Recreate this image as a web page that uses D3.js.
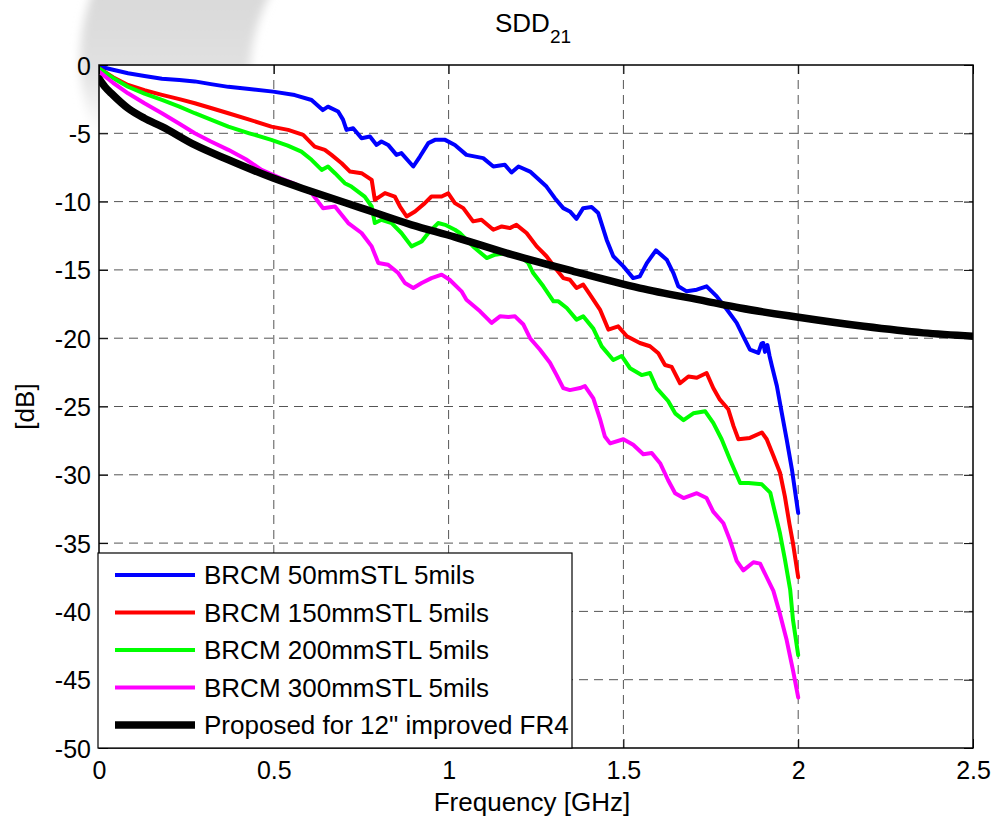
<!DOCTYPE html>
<html lang="en">
<head>
<meta charset="UTF-8">
<title>SDD21</title>
<style>
  body { margin: 0; background: #fff; }
  svg { display: block; font-family: "Liberation Sans", Arial, sans-serif; }
</style>
<script src="https://d3js.org/d3.v7.min.js"></script>
</head>
<body>
<div id="chart"></div>
<script>
// values: [frequency in GHz, dB]
const brcm50 = [
  [0, -0.1], [0.04, -0.35], [0.083, -0.6], [0.13, -0.8], [0.18, -1.0], [0.23, -1.1],
  [0.274, -1.2], [0.32, -1.4], [0.37, -1.6], [0.43, -1.75], [0.498, -1.95], [0.56, -2.2],
  [0.608, -2.56], [0.64, -3.3], [0.655, -3.05], [0.684, -3.4], [0.698, -4.0], [0.708, -4.75],
  [0.727, -4.63], [0.751, -5.36], [0.775, -5.24], [0.794, -5.85], [0.808, -5.6], [0.827, -5.85],
  [0.851, -6.58], [0.865, -6.45], [0.899, -7.43], [0.918, -6.7], [0.942, -5.72], [0.961, -5.48],
  [0.99, -5.48], [1.018, -5.85], [1.051, -6.58], [1.099, -6.82], [1.128, -7.43], [1.161, -7.31],
  [1.18, -7.87], [1.2, -7.43], [1.233, -7.8], [1.28, -8.9], [1.304, -9.75], [1.328, -10.48],
  [1.347, -10.72], [1.366, -11.26], [1.385, -10.48], [1.409, -10.4], [1.428, -10.84], [1.452, -12.79],
  [1.471, -14.0], [1.5, -14.74], [1.528, -15.6], [1.547, -15.47], [1.567, -14.5], [1.593, -13.57],
  [1.624, -14.25], [1.643, -15.23], [1.657, -16.2], [1.681, -16.57], [1.71, -16.45], [1.738, -16.2],
  [1.767, -16.94], [1.796, -17.9], [1.824, -18.88], [1.843, -19.86], [1.862, -20.83], [1.886, -21.08],
  [1.895, -20.4], [1.9, -20.35], [1.905, -21.0], [1.912, -20.5], [1.918, -21.3], [1.925, -22.05],
  [1.939, -23.5], [1.953, -25.46], [1.967, -27.4], [1.982, -29.6], [2.0, -32.8]
];
const brcm150 = [
  [0, -0.24], [0.04, -0.9], [0.083, -1.46], [0.13, -1.85], [0.18, -2.19], [0.23, -2.5],
  [0.274, -2.8], [0.32, -3.15], [0.37, -3.53], [0.43, -4.0], [0.493, -4.51], [0.541, -4.75],
  [0.584, -5.12], [0.617, -5.97], [0.646, -6.21], [0.665, -6.58], [0.694, -7.19], [0.718, -7.8],
  [0.751, -7.92], [0.78, -8.41], [0.789, -9.87], [0.818, -9.38], [0.846, -9.63], [0.861, -10.36],
  [0.88, -11.09], [0.904, -10.72], [0.932, -10.11], [0.951, -9.63], [0.98, -9.63], [0.999, -9.4],
  [1.018, -10.11], [1.042, -10.48], [1.07, -11.45], [1.094, -11.33], [1.128, -12.06], [1.152, -11.82],
  [1.175, -11.94], [1.194, -11.7], [1.223, -12.3], [1.252, -13.28], [1.28, -14.0], [1.309, -14.99],
  [1.328, -15.6], [1.347, -15.72], [1.366, -16.33], [1.385, -16.08], [1.404, -16.8], [1.433, -17.9],
  [1.457, -19.37], [1.485, -19.13], [1.51, -19.86], [1.547, -20.35], [1.576, -20.59], [1.6, -21.1],
  [1.619, -21.96], [1.638, -22.1], [1.662, -23.3], [1.686, -22.8], [1.71, -22.9], [1.738, -22.55],
  [1.757, -23.65], [1.776, -24.5], [1.8, -25.2], [1.815, -26.44], [1.829, -27.4], [1.862, -27.3],
  [1.896, -26.9], [1.91, -27.4], [1.929, -28.6], [1.948, -29.85], [1.962, -31.6], [1.975, -33.6],
  [1.985, -35.0], [2.0, -37.5]
];
const brcm200 = [
  [0, -0.24], [0.04, -0.95], [0.083, -1.59], [0.13, -2.1], [0.18, -2.56], [0.23, -3.05],
  [0.274, -3.53], [0.32, -4.0], [0.37, -4.51], [0.43, -5.0], [0.493, -5.48], [0.54, -5.9],
  [0.579, -6.34], [0.608, -6.94], [0.637, -7.68], [0.655, -7.43], [0.675, -7.92], [0.703, -8.65],
  [0.722, -8.9], [0.76, -9.63], [0.78, -10.36], [0.789, -11.57], [0.808, -11.33], [0.837, -11.57],
  [0.865, -12.3], [0.894, -13.28], [0.923, -12.92], [0.942, -12.3], [0.97, -11.57], [0.99, -11.7],
  [1.018, -12.06], [1.032, -12.3], [1.07, -13.28], [1.109, -14.13], [1.133, -13.89], [1.166, -13.77],
  [1.204, -14.0], [1.228, -14.5], [1.242, -15.23], [1.271, -16.2], [1.3, -17.3], [1.314, -17.3],
  [1.338, -17.79], [1.366, -18.64], [1.385, -18.4], [1.414, -19.3], [1.438, -20.6], [1.471, -21.6],
  [1.495, -21.3], [1.519, -22.2], [1.552, -22.7], [1.576, -22.55], [1.595, -23.65], [1.628, -24.6],
  [1.648, -25.5], [1.672, -26.0], [1.7, -25.5], [1.734, -25.35], [1.757, -26.2], [1.781, -27.4],
  [1.805, -28.9], [1.834, -30.6], [1.858, -30.6], [1.896, -30.7], [1.92, -31.3], [1.934, -32.8],
  [1.948, -34.3], [1.962, -36.2], [1.977, -38.4], [1.985, -40.6], [2.0, -43.2]
];
const brcm300 = [
  [0, -0.49], [0.04, -1.3], [0.083, -2.07], [0.13, -2.8], [0.18, -3.53], [0.23, -4.3],
  [0.274, -5.0], [0.32, -5.6], [0.37, -6.21], [0.42, -6.9], [0.465, -7.68], [0.52, -8.3],
  [0.56, -8.7], [0.608, -9.38], [0.641, -10.48], [0.675, -10.36], [0.713, -11.57], [0.751, -12.3],
  [0.78, -13.28], [0.799, -14.5], [0.827, -14.62], [0.856, -15.23], [0.875, -15.96], [0.899, -16.33],
  [0.923, -15.96], [0.951, -15.6], [0.98, -15.35], [1.003, -15.72], [1.037, -16.57], [1.051, -17.18],
  [1.09, -18.03], [1.123, -18.88], [1.147, -18.4], [1.171, -18.44], [1.19, -18.4], [1.214, -19.0],
  [1.233, -20.0], [1.261, -20.83], [1.29, -21.8], [1.309, -22.7], [1.328, -23.65], [1.347, -23.8],
  [1.376, -23.65], [1.39, -23.5], [1.414, -24.4], [1.433, -25.9], [1.447, -27.2], [1.462, -27.7],
  [1.5, -27.4], [1.528, -27.8], [1.557, -28.5], [1.581, -28.4], [1.605, -29.15], [1.628, -30.4],
  [1.648, -31.35], [1.672, -31.7], [1.71, -31.35], [1.738, -31.7], [1.757, -32.7], [1.786, -33.55],
  [1.805, -34.8], [1.824, -36.3], [1.843, -37.0], [1.872, -36.4], [1.891, -36.5], [1.91, -37.5],
  [1.929, -38.5], [1.948, -40.2], [1.967, -42.1], [1.985, -44.3], [2.0, -46.3]
];
const proposedFR4 = [
  [0, -1.0], [0.017, -1.6], [0.035, -2.07], [0.083, -3.17], [0.13, -3.9], [0.18, -4.51],
  [0.274, -5.85], [0.37, -6.94], [0.498, -8.28], [0.608, -9.26], [0.751, -10.48], [0.894, -11.7],
  [1.018, -12.6], [1.166, -13.77], [1.357, -15.1], [1.547, -16.33], [1.738, -17.3], [1.834, -17.79],
  [1.996, -18.45], [2.187, -19.13], [2.358, -19.61], [2.5, -19.85]
];

const seriesNames = [
  "BRCM 50mmSTL 5mils",
  "BRCM 150mmSTL 5mils",
  "BRCM 200mmSTL 5mils",
  "BRCM 300mmSTL 5mils",
  "Proposed for 12\" improved FR4"
];
const seriesData = [brcm50, brcm150, brcm200, brcm300, proposedFR4];
const seriesColors = ["#0000ff", "#ff0000", "#00ff00", "#ff00ff", "#000000"];
const seriesWidths = [4, 4, 4, 4, 7.5];

const xTicks = [0, 0.5, 1, 1.5, 2, 2.5];
const yTicks = [0, -5, -10, -15, -20, -25, -30, -35, -40, -45, -50];

const width = 992;
const height = 817;
const margin = { top: 65, right: 19, bottom: 69, left: 99 };
const plotW = width - margin.left - margin.right;
const plotH = height - margin.top - margin.bottom;

const x = d3.scaleLinear().domain([0, 2.5]).range([margin.left, margin.left + plotW]);
const y = d3.scaleLinear().domain([-50, 0]).range([margin.top + plotH, margin.top]);

const svg = d3.select("#chart")
  .append("svg")
  .attr("width", width)
  .attr("height", height);

svg.append("rect").attr("width", width).attr("height", height).attr("fill", "#fff");

// faint grey swoosh behind the figure (top left)
const defs = svg.append("defs");
defs.append("filter").attr("id", "soft")
  .append("feGaussianBlur").attr("stdDeviation", 5);
defs.append("clipPath").attr("id", "plotclip")
  .append("rect")
  .attr("x", margin.left).attr("y", margin.top)
  .attr("width", plotW).attr("height", plotH);
defs.append("clipPath").attr("id", "swooshclip")
  .append("rect")
  .attr("x", 0).attr("y", 0)
  .attr("width", 340).attr("height", 160);
const fade = defs.append("linearGradient")
  .attr("id", "fade")
  .attr("gradientUnits", "userSpaceOnUse")
  .attr("x1", 0).attr("y1", 0).attr("x2", 0).attr("y2", 135);
fade.append("stop").attr("offset", 0).attr("stop-color", "#d9d9d9");
fade.append("stop").attr("offset", 0.55).attr("stop-color", "#e2e2e2");
fade.append("stop").attr("offset", 1).attr("stop-color", "#ffffff");

function ellipsePath(cx, cy, rx, ry) {
  return `M${cx - rx},${cy} a${rx},${ry} 0 1,0 ${2 * rx},0 a${rx},${ry} 0 1,0 ${-2 * rx},0 Z`;
}
svg.append("g")
  .attr("clip-path", "url(#swooshclip)")
  .append("path")
  .attr("d", ellipsePath(560, 60, 480, 300) + ellipsePath(560, 75, 310, 229))
  .attr("fill-rule", "evenodd")
  .attr("fill", "url(#fade)")
  .attr("filter", "url(#soft)");

// plot background
svg.append("rect")
  .attr("x", margin.left).attr("y", margin.top)
  .attr("width", plotW).attr("height", plotH)
  .attr("fill", "#fff");

// dashed grid
const grid = svg.append("g")
  .attr("stroke", "#555")
  .attr("stroke-width", 1)
  .attr("stroke-dasharray", "9,6");
grid.selectAll("line.vx")
  .data(xTicks.slice(1, -1))
  .enter().append("line")
  .attr("x1", d => x(d)).attr("x2", d => x(d))
  .attr("y1", margin.top).attr("y2", margin.top + plotH);
grid.selectAll("line.hy")
  .data(yTicks.slice(1, -1))
  .enter().append("line")
  .attr("x1", margin.left).attr("x2", margin.left + plotW)
  .attr("y1", d => y(d)).attr("y2", d => y(d));

// curves (the proposed FR4 curve is a smooth fit, so smooth it)
const line = d3.line().x(d => x(d[0])).y(d => y(d[1]));
const smoothLine = d3.line().x(d => x(d[0])).y(d => y(d[1])).curve(d3.curveMonotoneX);
svg.append("g")
  .attr("clip-path", "url(#plotclip)")
  .selectAll("path")
  .data(seriesData)
  .enter().append("path")
  .attr("d", (d, i) => i === 4 ? smoothLine(d) : line(d))
  .attr("fill", "none")
  .attr("stroke", (d, i) => seriesColors[i])
  .attr("stroke-width", (d, i) => seriesWidths[i])
  .attr("stroke-linejoin", "round")
  .attr("stroke-linecap", "round");

// axes: inward ticks on all four sides
const tickFmt = d => String(d);
const tickSize = 25;
const labelSize = 26;

const xAxis = svg.append("g")
  .attr("transform", `translate(0,${margin.top + plotH})`)
  .call(d3.axisBottom(x).tickValues(xTicks).tickFormat(tickFmt).tickSizeInner(-9).tickSizeOuter(0).tickPadding(14));
const xTop = svg.append("g")
  .attr("transform", `translate(0,${margin.top})`)
  .call(d3.axisTop(x).tickValues(xTicks).tickFormat("").tickSizeInner(-9).tickSizeOuter(0));
const yAxis = svg.append("g")
  .attr("transform", `translate(${margin.left},0)`)
  .call(d3.axisLeft(y).tickValues(yTicks).tickFormat(tickFmt).tickSizeInner(-9).tickSizeOuter(0).tickPadding(8));
const yRight = svg.append("g")
  .attr("transform", `translate(${margin.left + plotW},0)`)
  .call(d3.axisRight(y).tickValues(yTicks).tickFormat("").tickSizeInner(-9).tickSizeOuter(0));

[xAxis, xTop, yAxis, yRight].forEach(g => {
  g.select(".domain").remove();
  g.selectAll(".tick line").attr("stroke", "#000").attr("stroke-width", 1);
  g.selectAll(".tick text")
    .attr("fill", "#000")
    .style("font-family", "'Liberation Sans', Arial, sans-serif")
    .style("font-size", tickSize + "px");
});
xAxis.selectAll(".tick text").attr("dy", "0.68em");
yAxis.selectAll(".tick text").attr("dy", "0.36em");

// box
svg.append("rect")
  .attr("x", margin.left).attr("y", margin.top)
  .attr("width", plotW).attr("height", plotH)
  .attr("fill", "none")
  .attr("stroke", "#000")
  .attr("stroke-width", 1.5);

// labels
const title = svg.append("text")
  .attr("x", 533).attr("y", 32)
  .attr("text-anchor", "middle")
  .style("font-size", labelSize + "px");
title.append("tspan").text("SDD");
title.append("tspan").attr("dy", 11).style("font-size", "19px").text("21");

svg.append("text")
  .attr("x", (x(0) + x(2.5)) / 2 - 4).attr("y", 811)
  .attr("text-anchor", "middle")
  .style("font-size", labelSize + "px")
  .text("Frequency [GHz]");

svg.append("text")
  .attr("transform", `translate(34,${(y(0) + y(-50)) / 2}) rotate(-90)`)
  .attr("text-anchor", "middle")
  .style("font-size", labelSize + "px")
  .text("[dB]");

// legend
const legend = svg.append("g");
legend.append("rect")
  .attr("x", margin.left - 1).attr("y", 553)
  .attr("width", 474).attr("height", margin.top + plotH - 553)
  .attr("fill", "#fff")
  .attr("stroke", "#000")
  .attr("stroke-width", 1.2);

const rows = legend.selectAll("g.row")
  .data(seriesNames)
  .enter().append("g")
  .attr("transform", (d, i) => `translate(0,${575 + i * 37.5})`);
rows.append("line")
  .attr("x1", 115).attr("x2", 195)
  .attr("y1", 0).attr("y2", 0)
  .attr("stroke", (d, i) => seriesColors[i])
  .attr("stroke-width", (d, i) => seriesWidths[i]);
rows.append("text")
  .attr("x", 204).attr("y", 9)
  .style("font-size", labelSize + "px")
  .text(d => d);
</script>
</body>
</html>
